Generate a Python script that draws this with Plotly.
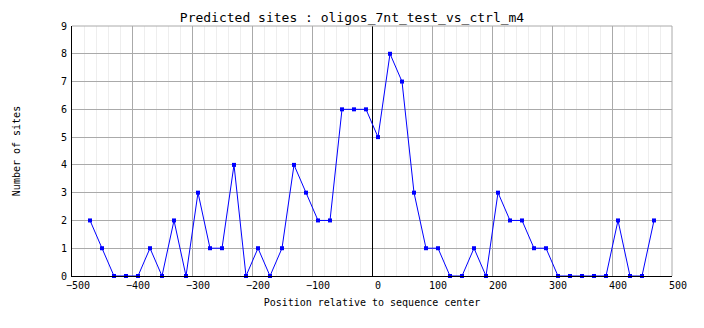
import plotly.graph_objects as go

# Bin centres (position relative to sequence centre) and site counts per bin
positions = [-470, -450, -430, -410, -390, -370, -350, -330, -310, -290,
             -270, -250, -230, -210, -190, -170, -150, -130, -110, -90,
             -70, -50, -30, -10, 10, 30, 50, 70, 90, 110,
             130, 150, 170, 190, 210, 230, 250, 270, 290, 310,
             330, 350, 370, 390, 410, 430, 450, 470]
site_counts = [2, 1, 0, 0, 0, 1, 0, 2, 0, 3,
               1, 1, 4, 0, 1, 0, 1, 4, 3, 2,
               2, 6, 6, 6, 5, 8, 7, 3, 1, 1,
               0, 0, 1, 0, 3, 2, 2, 1, 1, 0,
               0, 0, 0, 0, 2, 0, 0, 2]

title_text = "Predicted sites : oligos_7nt_test_vs_ctrl_m4"
x_title = "Position relative to sequence center"
y_title = "Number of sites"

mono = "DejaVu Sans Mono"

fig = go.Figure()
fig.add_trace(go.Scatter(
    x=positions, y=site_counts, mode="lines+markers",
    line=dict(color="#0000ff", width=1),
    marker=dict(symbol="square", size=4, color="#0000ff"),
    showlegend=False, cliponaxis=False,
))

fig.update_layout(
    width=704, height=328,
    margin=dict(l=72, r=32, t=26, b=52),
    paper_bgcolor="white", plot_bgcolor="white",
    font=dict(family=mono, size=10, color="black"),
    title=dict(text=title_text, x=0.5, xanchor="center", y=1 - 17 / 328,
               yanchor="middle", font=dict(family=mono, size=13, color="black")),
    xaxis=dict(
        range=[-500, 500], dtick=100, tick0=-500,
        showgrid=True, gridcolor="#aaaaaa", gridwidth=1,
        minor=dict(dtick=20, tick0=-500, showgrid=True, gridcolor="#eeeeee", gridwidth=1),
        showline=True, linecolor="black", linewidth=1,
        ticks="", ticklabelshift=6,
        # black line marking the sequence centre
        zeroline=True, zerolinecolor="black", zerolinewidth=1,
        tickfont=dict(family=mono, size=10),
        title=dict(text=x_title, font=dict(family=mono, size=10), standoff=8),
    ),
    yaxis=dict(
        range=[0, 9], dtick=1,
        showgrid=True, gridcolor="#aaaaaa", gridwidth=1,
        showline=True, linecolor="black", linewidth=1,
        ticks="", ticklabelstandoff=2,
        zeroline=False, tickfont=dict(family=mono, size=10),
        title=dict(text=y_title, font=dict(family=mono, size=10), standoff=38),
    ),
    shapes=[
        # gray frame on the top and right edges
        dict(type="line", xref="paper", yref="paper", x0=0, x1=1, y0=1, y1=1,
             line=dict(color="#aaaaaa", width=1)),
        dict(type="line", xref="paper", yref="paper", x0=1, x1=1, y0=0, y1=1,
             line=dict(color="#aaaaaa", width=1)),
    ],
)

fig.write_html("out.html")
